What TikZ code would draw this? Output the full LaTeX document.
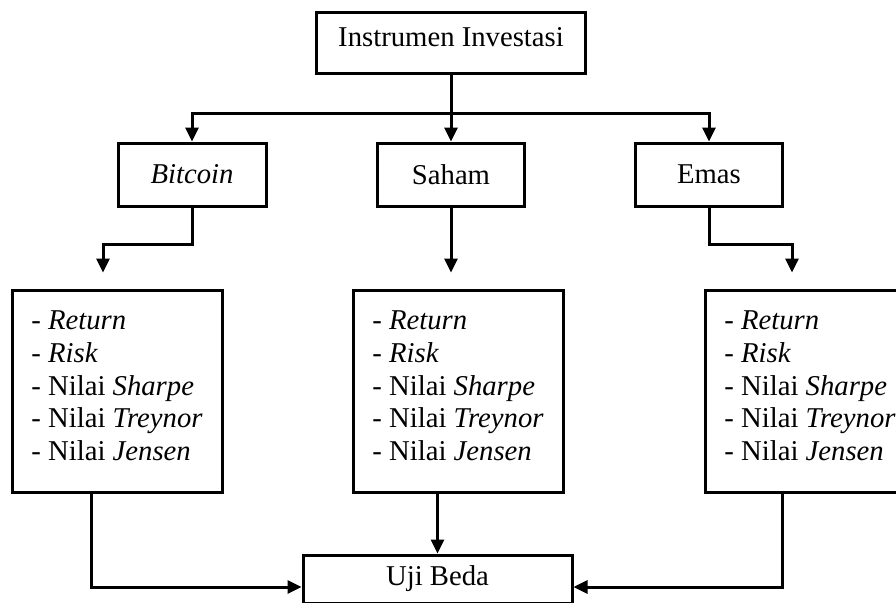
\documentclass[tikz,border=0pt]{standalone}
\usepackage{fontspec}
\setmainfont{Liberation Serif}
\usetikzlibrary{arrows.meta,positioning}

\begin{document}
\begin{tikzpicture}[x=1pt,y=-1pt]
            \tikzset{box/.style = {draw, line width=3pt, inner sep=0pt, font=\fontsize{28.7}{32.7}\selectfont}}
            \tikzset{list/.style = {box, minimum width=210pt, minimum height=202pt}}
            \tikzset{items/.style = {align=left, inner sep=0pt, yshift=5pt, font=\fontsize{28.7}{32.7}\selectfont}}
            \tikzset{conn/.style = {line width=3pt, -{Triangle[length=14pt,width=13pt]}}}

            \useasboundingbox (0,0) rectangle (896,602);
            \clip (0,0) rectangle (896,602);

            % boxes
            \node[box, minimum width=269pt, minimum height=60pt, text depth=12pt] (top) at (451,43) {Instrumen Investasi};
            \node[box, minimum width=148pt, minimum height=63pt] (bitcoin) at (192,174.5) {\textit{Bitcoin}};
            \node[box, minimum width=147pt, minimum height=63pt] (saham) at (451,174.5) {Saham};
            \node[box, minimum width=147pt, minimum height=63pt] (emas) at (709,174.5) {Emas};
            \foreach \name/\x in {listA/117,listB/458,listC/810}
            {
              \node[list, label={[items]center:- \textit{Return}\\ - \textit{Risk}\\ - Nilai \textit{Sharpe}\\ - Nilai \textit{Treynor}\\ - Nilai \textit{Jensen}}] (\name) at (\x,391) {};
            }
            \node[box, minimum width=269pt, minimum height=48pt] (uji) at (437.5,579) {Uji Beda};

            % edges
            \coordinate (split) at (451,113);
            \draw[line width=3pt] (top.south) -- (split);
            \draw[conn] (split) -| (bitcoin.north);
            \draw[conn] (split) -| (emas.north);
            \draw[conn] (split) -- (saham.north);

            \draw[conn, shorten >=16pt] (bitcoin.south) -- ++(0,37) -| ([xshift=-14pt]listA.north);
            \draw[conn, shorten >=16pt] (saham.south) -- ([xshift=-7pt]listB.north);
            \draw[conn, shorten >=16pt] (emas.south) -- ++(0,37) -| ([xshift=-18pt]listC.north);

            \draw[conn] ([xshift=-26pt]listA.south) |- ([yshift=-8pt]uji.west);
            \draw[conn] (listB.south -| uji.north) -- (uji.north);
            \draw[conn] ([xshift=-28pt]listC.south) |- ([yshift=-8pt]uji.east);

          \end{tikzpicture}
\end{document}
